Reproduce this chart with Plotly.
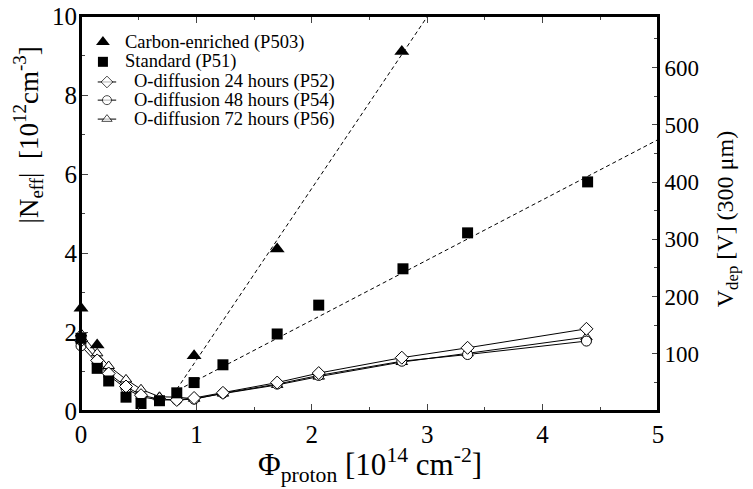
import plotly.graph_objects as go

# fluence [1e14 cm^-2]
phi_carbon = [0.0, 0.14, 0.98, 1.70, 2.78]
n_carbon = [2.60, 1.67, 1.40, 4.10, 9.10]

phi_std = [0.0, 0.14, 0.24, 0.39, 0.52, 0.68, 0.83, 0.98, 1.23, 1.70, 2.06, 2.79, 3.35, 4.39]
n_std = [1.84, 1.08, 0.76, 0.35, 0.19, 0.26, 0.46, 0.72, 1.17, 1.95, 2.68, 3.60, 4.51, 5.80]

phi_o = [0.0, 0.14, 0.24, 0.39, 0.52, 0.68, 0.83, 0.98, 1.23, 1.70, 2.06, 2.78, 3.35, 4.38]
n_p52 = [1.78, 1.28, 0.95, 0.62, 0.40, 0.30, 0.28, 0.33, 0.46, 0.72, 0.96, 1.35, 1.60, 2.08]
n_p54 = [1.65, 1.21, 0.90, 0.57, 0.36, 0.28, 0.28, 0.30, 0.45, 0.68, 0.90, 1.26, 1.43, 1.77]
n_p56 = [1.96, 1.46, 1.14, 0.80, 0.55, 0.36, 0.35, 0.31, 0.44, 0.66, 0.87, 1.24, 1.46, 1.87]

# linear fits (dashed)
fit_c_x = [0.83, 3.05]
fit_c_y = [0.55, 10.2]
fit_s_x = [0.84, 5.0]
fit_s_y = [0.53, 6.87]

v_per_n = 69.0  # V_dep (300 um) per 1e12 cm^-3

x_ticks = [0, 1, 2, 3, 4, 5]
y_ticks = [0, 2, 4, 6, 8, 10]
v_ticks = [100, 200, 300, 400, 500, 600]

legend_names = ["Carbon-enriched (P503)", "Standard (P51)",
                "O-diffusion 24 hours (P52)", "O-diffusion 48 hours (P54)",
                "O-diffusion 72 hours (P56)"]

FONT = "Liberation Serif, Times New Roman, serif"

fig = go.Figure()

dash = dict(color="black", width=1, dash="4px,3px")
fig.add_trace(go.Scatter(x=fit_c_x, y=fit_c_y, mode="lines", line=dash, hoverinfo="skip"))
fig.add_trace(go.Scatter(x=fit_s_x, y=fit_s_y, mode="lines", line=dash, hoverinfo="skip"))


def open_marker(sym):
    return dict(symbol=sym, size=10, color="white", line=dict(color="black", width=1))


line = dict(color="black", width=1)
filled_tri = dict(symbol="triangle-up", size=13, color="black")
filled_sq = dict(symbol="square", size=11, color="black")

fig.add_trace(go.Scatter(x=phi_o, y=n_p56, mode="lines+markers", line=line,
                         marker=open_marker("triangle-up"), name=legend_names[4], cliponaxis=False))
fig.add_trace(go.Scatter(x=phi_o, y=n_p54, mode="lines+markers", line=line,
                         marker=open_marker("circle"), name=legend_names[3], cliponaxis=False))
fig.add_trace(go.Scatter(x=phi_o, y=n_p52, mode="lines+markers", line=line,
                         marker=open_marker("diamond"), name=legend_names[2], cliponaxis=False))
fig.add_trace(go.Scatter(x=phi_std, y=n_std, mode="markers", marker=filled_sq,
                         name=legend_names[1], cliponaxis=False))
fig.add_trace(go.Scatter(x=phi_carbon, y=n_carbon, mode="markers", marker=filled_tri,
                         name=legend_names[0], cliponaxis=False))

# invisible trace to carry the right-hand V_dep axis
fig.add_trace(go.Scatter(x=phi_std, y=[n * v_per_n for n in n_std], yaxis="y2", mode="markers",
                         marker=dict(opacity=0), hoverinfo="skip"))

# ---- hand-made legend (compact rows like the original) on a hidden helper axis ----
row_y = [0.934, 0.884, 0.833, 0.787, 0.739]
sym_x = 0.038
fig.add_trace(go.Scatter(x=[sym_x], y=[row_y[0]], xaxis="x3", yaxis="y3", mode="markers",
                         marker=dict(symbol="triangle-up", size=12, color="black"), hoverinfo="skip"))
fig.add_trace(go.Scatter(x=[sym_x], y=[row_y[1]], xaxis="x3", yaxis="y3", mode="markers",
                         marker=dict(symbol="square", size=10, color="black"), hoverinfo="skip"))
for i, sym in zip([2, 3, 4], ["diamond", "circle", "triangle-up"]):
    fig.add_trace(go.Scatter(x=[0.029, 0.045, 0.061], y=[row_y[i]] * 3, xaxis="x3", yaxis="y3",
                             mode="lines+markers", line=line,
                             marker=dict(symbol=sym, size=[0, 9, 0], color="white",
                                         line=dict(color="black", width=1)),
                             hoverinfo="skip"))

annotations = []
for i, name in enumerate(legend_names):
    annotations.append(dict(text=name, x=0.073 if i < 2 else 0.088, y=row_y[i], xref="paper",
                            yref="paper", xanchor="left", yanchor="middle", showarrow=False,
                            font=dict(family=FONT, size=18.5)))

annotations += [
    dict(text="|N<sub>eff</sub>|  [10<sup>12</sup>cm<sup>-3</sup>]", textangle=-90,
         x=-0.092, y=0.70, xref="paper", yref="paper", showarrow=False,
         xanchor="center", yanchor="middle", font=dict(family=FONT, size=27)),
    dict(text="Φ<sub>proton</sub> [10<sup>14</sup> cm<sup>-2</sup>]",
         x=0.5, y=-0.137, xref="paper", yref="paper", showarrow=False,
         xanchor="center", yanchor="middle", font=dict(family=FONT, size=31)),
    dict(text="V<sub>dep</sub> [V] (300 μm)", textangle=-90,
         x=1.12, y=0.486, xref="paper", yref="paper", showarrow=False,
         xanchor="center", yanchor="middle", font=dict(family=FONT, size=24)),
]

# the page body has an 8px margin, so the plot frame is offset by 8px
fig.update_layout(
    width=745, height=481,
    margin=dict(l=73, r=95, t=8, b=78, autoexpand=False),
    paper_bgcolor="white", plot_bgcolor="white",
    font=dict(family=FONT, color="black", size=22),
    showlegend=False,
    annotations=annotations,
    shapes=[dict(type="rect", xref="paper", yref="paper", x0=0, x1=1, y0=0, y1=1,
                 line=dict(color="black", width=2), fillcolor="rgba(0,0,0,0)", layer="above")],
    xaxis=dict(range=[0, 5], tickvals=x_ticks, ticks="inside", ticklen=7, tickwidth=1,
               showline=True, linecolor="black", linewidth=2, mirror="ticks", showgrid=False,
               zeroline=False, minor=dict(dtick=0.5, ticks="inside", ticklen=4, tickwidth=1),
               tickfont=dict(size=25), automargin=False, ticklabeloverflow="allow"),
    yaxis=dict(range=[0, 10], tickvals=y_ticks, ticks="inside", ticklen=7, tickwidth=1,
               showline=True, linecolor="black", linewidth=2, showgrid=False, zeroline=False,
               minor=dict(dtick=1, ticks="inside", ticklen=4, tickwidth=1),
               tickfont=dict(size=25), automargin=False, ticklabeloverflow="allow",
               ticklabelstandoff=-3),
    yaxis2=dict(range=[0, 10 * v_per_n], overlaying="y", side="right", tickvals=v_ticks,
                ticks="inside", ticklen=6, tickwidth=1, showline=True, linecolor="black",
                linewidth=2, showgrid=False, zeroline=False,
                minor=dict(dtick=50, ticks="inside", ticklen=4, tickwidth=1),
                tickfont=dict(size=23), automargin=False, ticklabeloverflow="allow"),
    xaxis3=dict(domain=[0, 1], range=[0, 1], anchor="y3", overlaying="x", visible=False),
    yaxis3=dict(domain=[0, 1], range=[0, 1], anchor="x3", overlaying="y", visible=False),
)

fig.write_html("out.html")
